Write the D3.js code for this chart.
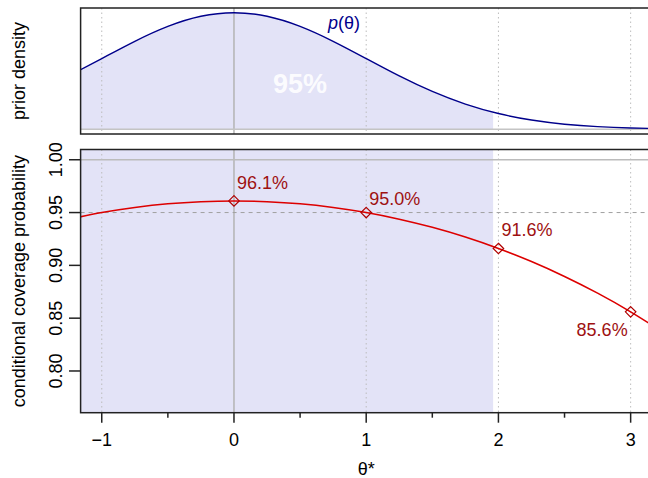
<!DOCTYPE html>
<html>
<head>
<meta charset="utf-8">
<script src="https://cdn.jsdelivr.net/npm/d3@7"></script>
<style>
  body { margin: 0; background: #fff; }
  svg { display: block; font-family: "Liberation Sans", Arial, Helvetica, sans-serif; }
</style>
</head>
<body>
<script>
// ---- data ----
let thetaGrid = [-1.25, -1, -0.75, -0.5, -0.25, 0, 0.25, 0.5, 0.75, 1, 1.25, 1.5, 1.75, 2, 2.25, 2.5, 2.75, 3, 3.25];
let priorDensity = [0.1826, 0.2420, 0.3011, 0.3521, 0.3867, 0.3989, 0.3867, 0.3521, 0.3011, 0.2420, 0.1826,
                    0.1295, 0.0863, 0.0540, 0.0317, 0.0175, 0.0091, 0.0044, 0.0020];
let coverage = [0.9437, 0.9500, 0.9548, 0.9583, 0.9603, 0.9610, 0.9603, 0.9583, 0.9548, 0.9500, 0.9437,
                0.9360, 0.9268, 0.9160, 0.9036, 0.8895, 0.8737, 0.8560, 0.8363];
let markTheta = [0, 1, 2, 3];
let markCoverage = [0.961, 0.950, 0.916, 0.856];
let markLabels = ['96.1%', '95.0%', '91.6%', '85.6%'];
let shadeUpper = 1.96;
let nominal = 0.95;
let xTicks = [-1, 0, 1, 2, 3];
let xMinorTicks = [-0.5, 0.5, 1.5, 2.5];
let yTicks = [0.80, 0.85, 0.90, 0.95, 1.00];

let W = 648, H = 478;
let shade = '#e3e3f7';

let svg = d3.select('body').append('svg')
    .attr('width', W)
    .attr('height', H);

let x = d3.scaleLinear().domain([-1.16, 3.16]).range([80.6, 651.8]);
let yTop = d3.scaleLinear().domain([-0.016, 0.4149]).range([134, 8]);
let yBot = d3.scaleLinear().domain([0.7605, 1.0097]).range([412.7, 149.5]);

let densityData = thetaGrid.map((t, i) => ({ t: t, v: priorDensity[i] }));
let coverageData = thetaGrid.map((t, i) => ({ t: t, v: coverage[i] }));

// clip paths for the two panels
let defs = svg.append('defs');
defs.append('clipPath').attr('id', 'clipTop')
    .append('rect').attr('x', x(-1.16)).attr('y', 8).attr('width', x(3.16) - x(-1.16)).attr('height', 126);
defs.append('clipPath').attr('id', 'clipBot')
    .append('rect').attr('x', x(-1.16)).attr('y', 149.5).attr('width', x(3.16) - x(-1.16)).attr('height', 263.2);
defs.append('clipPath').attr('id', 'clipShade')
    .append('rect').attr('x', x(-1.16)).attr('y', 0).attr('width', x(shadeUpper) - x(-1.16)).attr('height', H);

// ============================================ TOP PANEL ==============================================
let topPanel = svg.append('g').attr('clip-path', 'url(#clipTop)');

let area = d3.area()
    .x(d => x(d.t))
    .y0(yTop(0))
    .y1(d => yTop(d.v))
    .curve(d3.curveNatural);

topPanel.append('g').attr('clip-path', 'url(#clipShade)')
    .append('path')
        .attr('d', area(densityData))
        .attr('fill', shade);

topPanel.selectAll('line.grid')
    .data(xTicks.filter(d => d !== 0)).enter()
    .append('line')
        .attr('x1', d => x(d)).attr('x2', d => x(d))
        .attr('y1', 8).attr('y2', 134)
        .attr('stroke', '#bdbdbd')
        .attr('stroke-dasharray', '1.5,3');

topPanel.append('line')
    .attr('x1', x(0)).attr('x2', x(0))
    .attr('y1', 8).attr('y2', 134)
    .attr('stroke', '#b3b3b3')
    .attr('stroke-width', 1.5);

topPanel.append('line')
    .attr('x1', x(-1.16)).attr('x2', x(3.16))
    .attr('y1', yTop(0)).attr('y2', yTop(0))
    .attr('stroke', '#c4c4c4')
    .attr('stroke-width', 1.5);

topPanel.append('path')
    .attr('d', d3.line().x(d => x(d.t)).y(d => yTop(d.v)).curve(d3.curveNatural)(densityData))
    .attr('fill', 'none')
    .attr('stroke', '#00008b')
    .attr('stroke-width', 1.4);

topPanel.append('text')
    .attr('x', 300)
    .attr('y', 93)
    .attr('text-anchor', 'middle')
    .attr('font-size', 27)
    .attr('font-weight', 'bold')
    .attr('fill', '#ffffff')
    .attr('fill-opacity', 0.9)
    .text('95%');

let pt = svg.append('text')
    .attr('x', 328)
    .attr('y', 29)
    .attr('font-size', 18)
    .attr('fill', '#00008b');
pt.append('tspan').attr('font-style', 'italic').text('p');
pt.append('tspan').text('(θ)');

svg.append('rect')
    .attr('x', x(-1.16)).attr('y', 8)
    .attr('width', x(3.16) - x(-1.16)).attr('height', 126)
    .attr('fill', 'none')
    .attr('stroke', '#222')
    .attr('stroke-width', 1.5);

svg.append('text')
    .attr('transform', 'translate(25,' + 71 + ') rotate(-90)')
    .attr('text-anchor', 'middle')
    .attr('font-size', 18)
    .attr('fill', '#000')
    .text('prior density');

// ============================================ BOTTOM PANEL ===========================================
let botPanel = svg.append('g').attr('clip-path', 'url(#clipBot)');

botPanel.append('rect')
    .attr('x', x(-1.16)).attr('y', 149.5)
    .attr('width', x(shadeUpper) - x(-1.16)).attr('height', 263.2)
    .attr('fill', shade);

botPanel.selectAll('line.grid')
    .data(xTicks.filter(d => d !== 0)).enter()
    .append('line')
        .attr('x1', d => x(d)).attr('x2', d => x(d))
        .attr('y1', 149.5).attr('y2', 412.7)
        .attr('stroke', '#bdbdbd')
        .attr('stroke-dasharray', '1.5,3');

botPanel.append('line')
    .attr('x1', x(0)).attr('x2', x(0))
    .attr('y1', 149.5).attr('y2', 412.7)
    .attr('stroke', '#b3b3b3')
    .attr('stroke-width', 1.5);

botPanel.append('line')
    .attr('x1', x(-1.16)).attr('x2', x(3.16))
    .attr('y1', yBot(1)).attr('y2', yBot(1))
    .attr('stroke', '#bcbcbc')
    .attr('stroke-width', 1.5);

botPanel.append('line')
    .attr('x1', x(-1.16)).attr('x2', x(3.16))
    .attr('y1', yBot(nominal)).attr('y2', yBot(nominal))
    .attr('stroke', '#a0a0a0')
    .attr('stroke-dasharray', '4,4');

botPanel.append('path')
    .attr('d', d3.line().x(d => x(d.t)).y(d => yBot(d.v)).curve(d3.curveNatural)(coverageData))
    .attr('fill', 'none')
    .attr('stroke', '#dd0000')
    .attr('stroke-width', 1.6);

botPanel.selectAll('path.mark')
    .data(markTheta).enter()
    .append('path')
        .attr('d', d3.symbol(d3.symbolDiamond2, 70))
        .attr('transform', (d, i) => 'translate(' + x(d) + ',' + yBot(markCoverage[i]) + ')')
        .attr('fill', 'none')
        .attr('stroke', '#b00000')
        .attr('stroke-width', 1.2);

let labelDx = [3, 3, 3, -3];
let labelDy = [-12, -8, -12, 24];
let labelAnchor = ['start', 'start', 'start', 'end'];

botPanel.selectAll('text.lab')
    .data(markLabels).enter()
    .append('text')
        .attr('x', (d, i) => x(markTheta[i]) + labelDx[i])
        .attr('y', (d, i) => yBot(markCoverage[i]) + labelDy[i])
        .attr('text-anchor', (d, i) => labelAnchor[i])
        .attr('font-size', 18)
        .attr('fill', '#9e1111')
        .text(d => d);

svg.append('rect')
    .attr('x', x(-1.16)).attr('y', 149.5)
    .attr('width', x(3.16) - x(-1.16)).attr('height', 263.2)
    .attr('fill', 'none')
    .attr('stroke', '#222')
    .attr('stroke-width', 1.5);

// x axis
let xAxis = svg.append('g').attr('transform', 'translate(0,412.7)');
xAxis.selectAll('line.major')
    .data(xTicks).enter()
    .append('line')
        .attr('x1', d => x(d)).attr('x2', d => x(d))
        .attr('y1', 0).attr('y2', 10)
        .attr('stroke', '#222')
        .attr('stroke-width', 1.5);
xAxis.selectAll('line.minor')
    .data(xMinorTicks).enter()
    .append('line')
        .attr('x1', d => x(d)).attr('x2', d => x(d))
        .attr('y1', 0).attr('y2', 5)
        .attr('stroke', '#222')
        .attr('stroke-width', 1.5);
xAxis.selectAll('text')
    .data(xTicks).enter()
    .append('text')
        .attr('x', d => x(d))
        .attr('y', 33.5)
        .attr('text-anchor', 'middle')
        .attr('font-size', 18)
        .attr('fill', '#000')
        .text(d => d < 0 ? '\u2212' + Math.abs(d) : d);

svg.append('text')
    .attr('x', (x(-1.16) + x(3.16)) / 2)
    .attr('y', 475)
    .attr('text-anchor', 'middle')
    .attr('font-size', 18)
    .attr('fill', '#000')
    .text('θ*');

// y axis
let yAxis = svg.append('g');
yAxis.selectAll('line')
    .data(yTicks).enter()
    .append('line')
        .attr('x1', 69).attr('x2', x(-1.16))
        .attr('y1', d => yBot(d)).attr('y2', d => yBot(d))
        .attr('stroke', '#222')
        .attr('stroke-width', 1.5);
yAxis.selectAll('text')
    .data(yTicks).enter()
    .append('text')
        .attr('transform', d => 'translate(62,' + yBot(d) + ') rotate(-90)')
        .attr('text-anchor', 'middle')
        .attr('font-size', 18)
        .attr('fill', '#000')
        .text(d => d3.format('.2f')(d));

svg.append('text')
    .attr('transform', 'translate(25,' + (149.5 + 412.7) / 2 + ') rotate(-90)')
    .attr('text-anchor', 'middle')
    .attr('font-size', 18)
    .attr('fill', '#000')
    .text('conditional coverage probability');
</script>
</body>
</html>
